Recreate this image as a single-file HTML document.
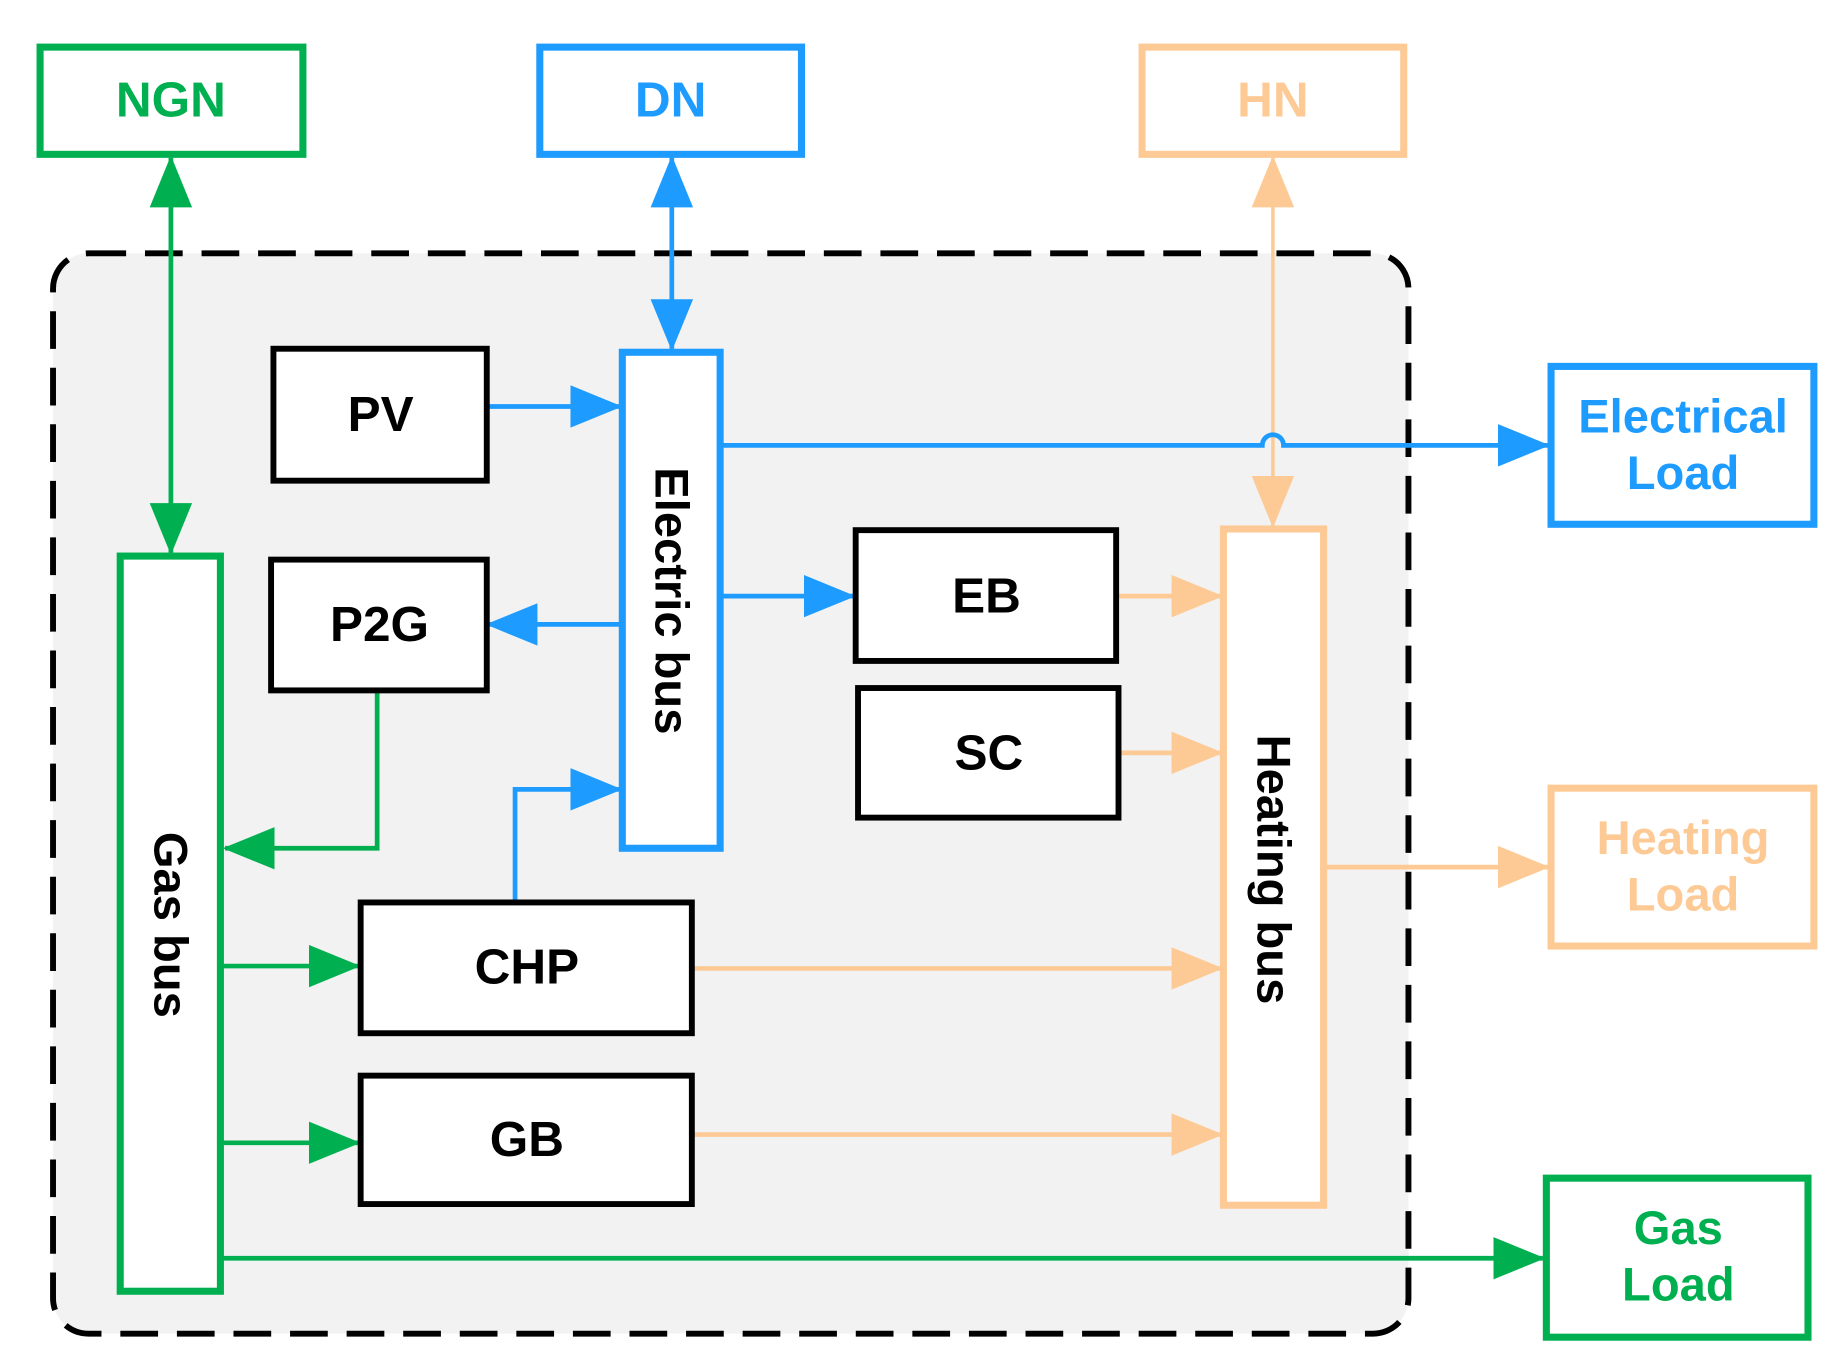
<!DOCTYPE html>
<html><head><meta charset="utf-8"><style>
html,body{margin:0;padding:0;background:#fff}
svg{display:block}
text{font-family:"Liberation Sans",sans-serif;font-weight:bold}
</style></head><body>
<svg width="1841" height="1369" viewBox="0 0 1562 1162" preserveAspectRatio="none" xmlns="http://www.w3.org/2000/svg">
<defs>
<marker id="ag" markerUnits="userSpaceOnUse" markerWidth="44" markerHeight="36" refX="42" refY="18" orient="auto-start-reverse"><path d="M0,0 L44,18 L0,36 Z" fill="#00b050"/></marker>
<marker id="ab" markerUnits="userSpaceOnUse" markerWidth="44" markerHeight="36" refX="42" refY="18" orient="auto-start-reverse"><path d="M0,0 L44,18 L0,36 Z" fill="#1e9bff"/></marker>
<marker id="ap" markerUnits="userSpaceOnUse" markerWidth="44" markerHeight="36" refX="42" refY="18" orient="auto-start-reverse"><path d="M0,0 L44,18 L0,36 Z" fill="#fdca96"/></marker>
</defs>
<rect x="45" y="215" width="1150" height="917" rx="30" fill="#f2f2f2" stroke="#000" stroke-width="5" stroke-dasharray="32,16"/>

<!-- top boxes -->
<rect x="34" y="40" width="223" height="91" fill="#fff" stroke="#00b050" stroke-width="6"/>
<text x="145" y="99" font-size="42" fill="#00b050" text-anchor="middle">NGN</text>
<rect x="458" y="40" width="222" height="91" fill="#fff" stroke="#1e9bff" stroke-width="6"/>
<text x="569" y="99" font-size="42" fill="#1e9bff" text-anchor="middle">DN</text>
<rect x="969" y="40" width="222" height="91" fill="#fff" stroke="#fdca96" stroke-width="6"/>
<text x="1080" y="99" font-size="42" fill="#fdca96" text-anchor="middle">HN</text>

<!-- connectors -->
<g fill="none" stroke-width="4">
<line x1="145" y1="134" x2="145" y2="469" stroke="#00b050" marker-start="url(#ag)" marker-end="url(#ag)"/>
<line x1="570" y1="134" x2="570" y2="296" stroke="#1e9bff" marker-start="url(#ab)" marker-end="url(#ab)"/>
<line x1="1080" y1="134" x2="1080" y2="446" stroke="#fdca96" stroke-width="3" marker-start="url(#ap)" marker-end="url(#ap)"/>
<line x1="413" y1="345" x2="526" y2="345" stroke="#1e9bff" marker-end="url(#ab)"/>
<line x1="528" y1="530" x2="414" y2="530" stroke="#1e9bff" marker-end="url(#ab)"/>
<polyline points="320,586 320,720 191,720" stroke="#00b050" marker-end="url(#ag)"/>
<polyline points="437,766 437,670 526,670" stroke="#1e9bff" marker-end="url(#ab)"/>
<path d="M613,378 L1071,378 A9,9 0 0 1 1089,378 L1313,378" stroke="#1e9bff" marker-end="url(#ab)"/>
<line x1="613" y1="506" x2="724" y2="506" stroke="#1e9bff" marker-end="url(#ab)"/>
<line x1="949" y1="506" x2="1036" y2="506" stroke="#fdca96" marker-end="url(#ap)"/>
<line x1="951" y1="639" x2="1036" y2="639" stroke="#fdca96" marker-end="url(#ap)"/>
<line x1="589" y1="822" x2="1036" y2="822" stroke="#fdca96" marker-end="url(#ap)"/>
<line x1="589" y1="963" x2="1036" y2="963" stroke="#fdca96" marker-end="url(#ap)"/>
<line x1="1125" y1="736" x2="1313" y2="736" stroke="#fdca96" marker-end="url(#ap)"/>
<line x1="189" y1="820" x2="304" y2="820" stroke="#00b050" marker-end="url(#ag)"/>
<line x1="189" y1="970" x2="304" y2="970" stroke="#00b050" marker-end="url(#ag)"/>
<line x1="189" y1="1068" x2="1309" y2="1068" stroke="#00b050" marker-end="url(#ag)"/>
</g>

<!-- black boxes -->
<g fill="#fff" stroke="#000" stroke-width="5">
<rect x="232" y="296" width="181" height="112"/>
<rect x="230" y="475" width="183" height="111"/>
<rect x="726" y="450" width="221" height="111"/>
<rect x="728" y="584" width="221" height="110"/>
<rect x="306" y="766" width="281" height="111"/>
<rect x="306" y="913" width="281" height="109"/>
</g>
<g font-size="42" fill="#000" text-anchor="middle">
<text x="323" y="366">PV</text>
<text x="322" y="544">P2G</text>
<text x="837" y="520">EB</text>
<text x="839" y="653">SC</text>
<text x="447" y="835">CHP</text>
<text x="447" y="981">GB</text>
</g>

<!-- buses -->
<rect x="528" y="299" width="83" height="421" fill="#fff" stroke="#1e9bff" stroke-width="6"/>
<text transform="translate(556,510) rotate(90)" font-size="40" fill="#000" text-anchor="middle">Electric bus</text>
<rect x="1038" y="449" width="85" height="574" fill="#fff" stroke="#fdca96" stroke-width="6"/>
<text transform="translate(1067,738) rotate(90)" font-size="40" fill="#000" text-anchor="middle">Heating bus</text>
<rect x="102" y="472" width="85" height="624" fill="#fff" stroke="#00b050" stroke-width="6"/>
<text transform="translate(131,785) rotate(90)" font-size="40" fill="#000" text-anchor="middle">Gas bus</text>

<!-- loads -->
<rect x="1316" y="311" width="223" height="134" fill="#fff" stroke="#1e9bff" stroke-width="6"/>
<text x="1428" y="367" font-size="40" fill="#1e9bff" text-anchor="middle">Electrical</text>
<text x="1428" y="415" font-size="40" fill="#1e9bff" text-anchor="middle">Load</text>
<rect x="1316" y="669" width="223" height="134" fill="#fff" stroke="#fdca96" stroke-width="6"/>
<text x="1428" y="725" font-size="40" fill="#fdca96" text-anchor="middle">Heating</text>
<text x="1428" y="773" font-size="40" fill="#fdca96" text-anchor="middle">Load</text>
<rect x="1312" y="1000" width="222" height="135" fill="#fff" stroke="#00b050" stroke-width="6"/>
<text x="1424" y="1056" font-size="40" fill="#00b050" text-anchor="middle">Gas</text>
<text x="1424" y="1104" font-size="40" fill="#00b050" text-anchor="middle">Load</text>
</svg>
</body></html>
